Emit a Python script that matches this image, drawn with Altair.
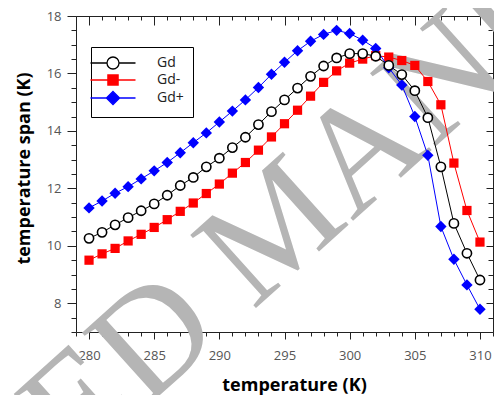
import altair as alt
import pandas as pd

temps = list(range(280, 311))
gd = [10.26, 10.47, 10.73, 10.98, 11.22, 11.46, 11.76, 12.10, 12.38, 12.75,
      13.05, 13.42, 13.78, 14.22, 14.67, 15.08, 15.49, 15.90, 16.26, 16.54,
      16.69, 16.69, 16.60, 16.28, 15.96, 15.40, 14.46, 12.75, 10.78, 9.74, 8.81]
gd_minus = [9.50, 9.72, 9.91, 10.17, 10.40, 10.64, 10.91, 11.20, 11.49, 11.82,
            12.15, 12.53, 12.90, 13.33, 13.79, 14.25, 14.72, 15.21, 15.69, 16.09,
            16.36, 16.50, 16.62, 16.57, 16.45, 16.28, 15.72, 14.91, 12.88, 11.23, 10.13]
gd_plus = [11.32, 11.56, 11.83, 12.06, 12.33, 12.61, 12.90, 13.24, 13.59, 13.93,
           14.31, 14.69, 15.08, 15.51, 15.97, 16.39, 16.79, 17.12, 17.36, 17.50,
           17.39, 17.16, 16.87, 16.20, 15.60, 14.50, 13.15, 10.67, 9.53, 8.64, 7.79]

series_names = ["Gd", "Gd-", "Gd+"]
series_values = [gd, gd_minus, gd_plus]
x_ticks = list(range(279, 312))
y_ticks = [7 + 0.5 * i for i in range(23)]
watermark = "ACCEPTED MANUSCRIPT"

rows = []
for name, vals in zip(series_names, series_values):
    for t, v in zip(temps, vals):
        rows.append({"T": t, "span": v, "series": name})
df = pd.DataFrame(rows)

W, H = 417, 316
xs = alt.Scale(domain=[279, 311], nice=False, zero=False)
ys = alt.Scale(domain=[7, 18], nice=False, zero=False)
FONT = "Open Sans"
TICK = "#222222"

def xaxis(main):
    if main:
        return alt.Axis(orient="bottom", values=x_ticks, domain=False, grid=False,
                        tickSize={"condition": {"test": "datum.value % 5 === 0", "value": 7}, "value": 4},
                        tickColor=TICK, labelExpr="datum.value % 5 === 0 ? format(datum.value, 'd') : ''",
                        labelOverlap=False, labelFlush=False, labelFont=FONT, labelFontSize=13,
                        labelColor="#555555", labelPadding=10,
                        title="temperature (K)", titleFont=FONT, titleFontSize=18,
                        titleFontWeight="bold", titleColor="black",
                        titleX=218, titleY=53, titleBaseline="middle", titleAlign="center")
    return alt.Axis(orient="bottom", offset=-H, values=x_ticks, domain=False, labels=False, grid=False,
                    tickSize={"condition": {"test": "datum.value % 5 === 0", "value": 9}, "value": 4},
                    tickColor=TICK, title=None)

def yaxis(main):
    if main:
        return alt.Axis(orient="left", values=y_ticks, domain=False, grid=False,
                        tickSize={"condition": {"test": "datum.value % 2 === 0", "value": 9}, "value": 5},
                        tickColor=TICK, labelExpr="datum.value % 2 === 0 ? format(datum.value, 'd') : ''",
                        labelOverlap=False, labelFlush=False, labelFont=FONT, labelFontSize=13,
                        labelColor="#555555", labelPadding=6,
                        title="temperature span (K)", titleFont=FONT, titleFontSize=18,
                        titleFontWeight="bold", titleColor="black", titleAngle=270,
                        titleX=-52, titleY=152, titleBaseline="middle", titleAlign="center")
    return alt.Axis(orient="left", offset=-W, values=y_ticks, domain=False, labels=False, grid=False,
                    tickSize={"condition": {"test": "datum.value % 2 === 0", "value": 7}, "value": 5},
                    tickColor=TICK, title=None)

base = alt.Chart(df)

wm = alt.Chart(pd.DataFrame({"t": [watermark]})).mark_text(
    font="Liberation Serif", fontSize=150, color="#b5b5b5", angle=318,
    align="center", baseline="middle"
).encode(text="t:N", x=alt.value(204), y=alt.value(210))

axes_main = base.mark_point(opacity=0).encode(
    x=alt.X("T:Q", scale=xs, axis=xaxis(True)),
    y=alt.Y("span:Q", scale=ys, axis=yaxis(True)),
)
axes_mirror = base.mark_point(opacity=0).encode(
    x=alt.X("T:Q", scale=xs, axis=xaxis(False)),
    y=alt.Y("span:Q", scale=ys, axis=yaxis(False)),
)

legend_paths = [
    "M-2.75,0L0,0M2,0L4.75,0M0,0A1,1,0,1,0,2,0A1,1,0,1,0,0,0Z",
    "M-2.75,0L4.75,0M0.15,-0.85L1.85,-0.85L1.85,0.85L0.15,0.85Z",
    "M-2.75,0L4.75,0M1,-1.1L2.1,0L1,1.1L-0.1,0Z",
]
leg = alt.Legend(orient="none", legendX=15, legendY=31, title=None,
                 strokeColor="black", fillColor="white", padding=9,
                 columns=1, columnPadding=12,
                 symbolSize=144, symbolStrokeWidth=1.3, symbolOpacity=1,
                 labelFont=FONT, labelFontSize=14, labelColor="#222222",
                 labelOffset=43, rowPadding=0)
legend_layer = base.mark_point(opacity=0).encode(
    x=alt.X("T:Q", scale=xs, axis=None),
    y=alt.Y("span:Q", scale=ys, axis=None),
    shape=alt.Shape("series:N", scale=alt.Scale(domain=series_names, range=legend_paths), legend=leg),
    fill=alt.Fill("series:N", scale=alt.Scale(domain=series_names, range=["white", "red", "blue"]), legend=leg),
    stroke=alt.Stroke("series:N", scale=alt.Scale(domain=series_names, range=["black", "red", "blue"]), legend=leg),
)

styles = {
    "Gd": dict(color="black", shape="circle", size=85, filled=False, strokeWidth=1.6),
    "Gd-": dict(color="red", shape="square", size=85, filled=True, strokeWidth=0),
    "Gd+": dict(color="blue", shape="diamond", size=130, filled=True, strokeWidth=0),
}

data_layers = []
for name in ["Gd-", "Gd+", "Gd"]:
    st = styles[name]
    sub = base.transform_filter(alt.datum.series == name)
    line = sub.mark_line(color=st["color"], strokeWidth=1).encode(
        x=alt.X("T:Q", scale=xs, axis=None), y=alt.Y("span:Q", scale=ys, axis=None))
    pkw = dict(shape=st["shape"], size=st["size"], filled=st["filled"], opacity=1,
               strokeWidth=st["strokeWidth"])
    if name == "Gd":
        pkw.update(stroke="black", fill="white", fillOpacity=1)
    else:
        pkw.update(color=st["color"])
    pts = sub.mark_point(**pkw).encode(
        x=alt.X("T:Q", scale=xs, axis=None), y=alt.Y("span:Q", scale=ys, axis=None))
    data_layers += [line, pts]

chart = alt.layer(wm, axes_main, axes_mirror, legend_layer, *data_layers).resolve_axis(
    x="independent", y="independent"
).resolve_scale(shape="independent", fill="independent", stroke="independent").properties(
    width=W, height=H, autosize=alt.AutoSizeParams(type="none"),
    padding={"left": 68, "top": 8, "right": 1, "bottom": 63},
).configure_view(stroke="#222222", strokeWidth=1)

chart.save("out.html", embed_options={"renderer": "svg", "actions": False})
